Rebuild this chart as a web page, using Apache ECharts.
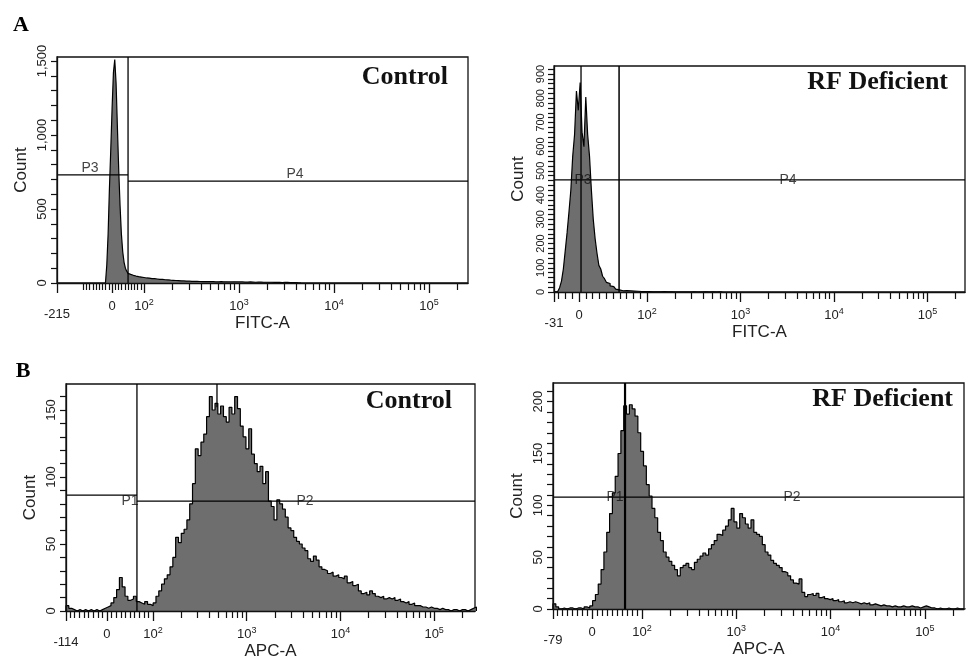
<!DOCTYPE html>
<html><head><meta charset="utf-8">
<script src="https://cdn.jsdelivr.net/npm/echarts@6/dist/echarts.min.js"></script>
<style>html,body{margin:0;padding:0;background:#fff}#c{width:968px;height:663px}</style>
</head><body><div id="c"></div>
<script>
// ================= DATA =================
// x values are in display units of the biexponential axis (10^2 -> 2, 10^3 -> 3, ...)
// --- A: FITC, Control ---
const fitcCtrlStart = 1.594, fitcCtrlBin = 0.014;
const fitcCtrlCounts = [
 0,120,330,640,900,1180,1420,1510,1350,1050,
 760,520,330,210,140,100,80,65,58,54,
 52,49,47,45,43,42,40,39,37,36,
 34,33,33,32,30,31,29,28,27,26,
 25,25,24,23,22,21,21,20,19,19,
 18,18,17,16,16,15,15,14,14,13,
 13,12,12,12,11,11,11,10,11,10,
 10,10,9,10,9,9,10,9,9,8,
 9,9,8,9,8,8,9,8,8,7,
 8,8,7,8,7,7,8,7,7,7,
 7,6,7,7,6,7,6,6,7,6,
 6,6,5,6,6,5,6,5,5,6,
 5,5,5,4,5,5,4,5,4,4,
 4,4,3,4,4,3,4,3,3,3,
 3,2,3,2,1,2,0];
const fitcCtrlTicks = ['-215','0','10^2','10^3','10^4','10^5'];
const fitcCtrlTickPos = [1.084, 1.663, 2, 3, 4, 5];
const fitcCtrlGates = [[[1.832,0],[1.832,1527]], [[1.084,730],[1.832,730]], [[1.832,689],[5.411,689]]];
const fitcCtrlGateLabels = [['P3',1.432,730],['P4',3.589,689]];

// --- A: FITC, RF Deficient ---
const fitcRfStart = 1.005, fitcRfBin = 0.02;
const fitcRfCounts = [
 0,2,5,18,45,95,170,245,330,420,
 560,650,830,750,865,660,600,805,650,560,
 420,300,220,160,110,95,65,55,40,35,
 25,22,18,12,9,7,5,4,6,3,
 5,3,4,2,3,4,2,3,2,3,
 2,2,1,2,1,2,1,1,2,1,
 1,0,1,1,0,1,0,1,0,1,
 0,1,0,0,1,0,0,1,0,0,
 1,0,0,0,1,0,0,0,1,0];
const fitcRfTicks = ['-31','0','10^2','10^3','10^4','10^5'];
const fitcRfTickPos = [1.005, 1.273, 2, 3, 4, 5];
const fitcRfGates = [[[1.294,0],[1.294,933]], [[1.701,0],[1.701,933]], [[1.005,463],[5.401,463]]];
const fitcRfGateLabels = [['P3',1.316,463],['P4',3.508,463]];

// --- B: APC, Control ---
const apcCtrlStart = 1.072, apcCtrlBin = 0.03;
const apcCtrlCounts = [
 4,2,1,0,1,0,1,0,1,0,
 1,0,1,2,3,4,6,10,16,25,
 18,11,8,9,11,7,6,5,7,5,
 4,6,11,15,20,24,27,33,40,55,
 51,58,61,68,80,95,121,116,126,132,
 145,160,150,155,147,153,145,141,152,147,
 160,151,138,130,121,136,117,110,104,108,
 95,104,82,78,68,83,80,76,70,62,
 60,55,52,50,47,45,39,37,41,38,
 33,31,30,28,29,26,27,25,24,26,
 21,22,19,20,15,13,14,12,15,13,
 11,10,11,9,10,9,10,8,9,7,
 6,7,5,6,4,4,3,3,2,3,
 2,2,1,2,1,1,0,1,1,0,
 1,1,0,1,2,3];
const apcCtrlTicks = ['-114','0','10^2','10^3','10^4','10^5'];
const apcCtrlTickPos = [1.072, 1.509, 2, 3, 4, 5];
const apcCtrlGates = [[[1.829,0],[1.829,169.4]], [[2.683,152],[2.683,169.4]], [[1.072,86.5],[1.829,86.5]], [[1.829,82],[5.436,82]]];
const apcCtrlGateLabels = [['P1',1.755,82],['P2',3.622,82]];

// --- B: APC, RF Deficient ---
const apcRfStart = 1.056, apcRfBin = 0.03;
const apcRfCounts = [
 5,2,0,1,0,1,1,0,1,1,
 0,2,1,3,8,14,24,38,55,74,
 92,112,128,150,172,196,188,197,193,186,
 170,152,138,120,109,97,88,74,66,55,
 50,46,42,38,32,40,42,44,40,38,
 45,48,51,54,52,58,62,66,72,71,
 76,80,86,97,84,78,92,88,82,78,
 86,74,72,70,62,55,52,47,44,42,
 40,36,35,32,28,25,24,29,16,12,
 14,15,13,15,11,12,10,9,10,8,
 9,7,8,6,7,6,7,6,5,6,
 5,6,4,5,4,3,4,3,3,2,
 3,2,2,3,2,2,3,2,2,1,
 2,3,2,1,1,0,1,0,0,1,
 0,0,1,0,0,0];
const apcRfTicks = ['-79','0','10^2','10^3','10^4','10^5'];
const apcRfTickPos = [1.056, 1.470, 2, 3, 4, 5];
const apcRfGates = [[[1.820,0],[1.820,218]], [[1.056,108],[5.415,108]]];
const apcRfGateLabels = [['P1',1.714,108],['P2',3.591,108]];

// ================= LAYOUT =================
const panels = [
 {box:[57,57,411,226], xMin:1.084, xZero:1.663, xMax:5.411, yMax:1527, yStep:500, yMinor:100, yFont:13,
  xName:'FITC-A', start:fitcCtrlStart, bin:fitcCtrlBin, counts:fitcCtrlCounts, ticks:fitcCtrlTicks, tickPos:fitcCtrlTickPos,
  gates:fitcCtrlGates, gateW:[1.3,1.3,1.3], labels:fitcCtrlGateLabels, labelPos:'top', title:'Control', titleXY:[448,77]},
 {box:[554,66,411,226], xMin:1.005, xZero:1.273, xMax:5.401, yMax:933, yStep:100, yMinor:20, yFont:11,
  xName:'FITC-A', start:fitcRfStart, bin:fitcRfBin, counts:fitcRfCounts, ticks:fitcRfTicks, tickPos:fitcRfTickPos,
  gates:fitcRfGates, gateW:[1.3,1.5,1.3], labels:fitcRfGateLabels, labelPos:'inside', title:'RF Deficient', titleXY:[948,82]},
 {box:[66,384,409,227], xMin:1.072, xZero:1.509, xMax:5.436, yMax:169.4, yStep:50, yMinor:10, yFont:13,
  xName:'APC-A', start:apcCtrlStart, bin:apcCtrlBin, counts:apcCtrlCounts, ticks:apcCtrlTicks, tickPos:apcCtrlTickPos,
  gates:apcCtrlGates, gateW:[1.3,1.3,1.3,1.3], labels:apcCtrlGateLabels, labelPos:'inside', title:'Control', titleXY:[452,401]},
 {box:[553,383,411,226], xMin:1.056, xZero:1.470, xMax:5.415, yMax:218, yStep:50, yMinor:10, yFont:13,
  xName:'APC-A', start:apcRfStart, bin:apcRfBin, counts:apcRfCounts, ticks:apcRfTicks, tickPos:apcRfTickPos,
  gates:apcRfGates, gateW:[2.2,1.3], labels:apcRfGateLabels, labelPos:'inside', title:'RF Deficient', titleXY:[953,399]}
];

const SANS = 'Liberation Sans, Arial, sans-serif';
const SERIF = 'Liberation Serif, Times New Roman, serif';

function minorTicks(p){
  const out = [];
  const step = (2 - p.xZero) / 10;
  for (let k = 1; k <= 9; k++) {
    out.push(p.xZero + k * step);
    const n = p.xZero - k * step;
    if (n > p.xMin + 1e-6) out.push(n);
  }
  for (let e = 2; e <= 5; e++) for (let k = 2; k <= 9; k++) {
    const v = e + Math.log10(k);
    if (v < p.xMax) out.push(v);
  }
  return out;
}
function histData(start, bin, counts){
  const d = [[start, 0]];
  counts.forEach((c, i) => d.push([start + i * bin, c]));
  d.push([start + counts.length * bin, 0]);
  return d;
}
function richTick(t, isMin){
  if (isMin) return '{low|' + t + '}';
  return t.replace(/\^(\d)/, '{s|$1}');
}

const option = {animation:false, backgroundColor:'#fff', grid:[], xAxis:[], yAxis:[], series:[], graphic:[]};

panels.forEach((p, g) => {
  option.grid.push({left:p.box[0], top:p.box[1], width:p.box[2], height:p.box[3], show:true,
    outerBoundsMode:'none', containLabel:false,
    borderColor:'#111', borderWidth:1.3, backgroundColor:'transparent'});
  option.xAxis.push({type:'value', gridIndex:g, position:'bottom', min:p.xMin, max:p.xMax, z:10,
    name:p.xName, nameLocation:'middle', nameGap:32, nameMoveOverlap:false,
    nameTextStyle:{fontSize:17, fontFamily:SANS, color:'#222'},
    axisLine:{show:true, lineStyle:{color:'#111', width:1.3}},
    axisTick:{show:true, customValues:p.tickPos, length:10, lineStyle:{color:'#111', width:1.3}},
    axisLabel:{show:true, customValues:p.tickPos, margin:15, fontSize:13, fontFamily:SANS, color:'#222', lineHeight:16,
      formatter:(v) => { let j = 0, best = 1e9; p.tickPos.forEach((q, k) => { if (Math.abs(q - v) < best) { best = Math.abs(q - v); j = k; } }); return richTick(p.ticks[j], j === 0); },
      rich:{s:{fontSize:9, lineHeight:9, verticalAlign:'top', fontFamily:SANS, color:'#222'},
            low:{padding:[16,0,0,0], fontSize:13, fontFamily:SANS, color:'#222'}}},
    splitLine:{show:false}});
  option.xAxis.push({type:'value', gridIndex:g, position:'bottom', min:p.xMin, max:p.xMax, z:10,
    axisLine:{show:false}, axisLabel:{show:false}, splitLine:{show:false},
    axisTick:{show:true, customValues:minorTicks(p), length:7, lineStyle:{color:'#111', width:1.2}}});
  const yTicks = [], yLabs = [];
  for (let v = 0; v <= p.yMax + 1e-6; v += p.yMinor) yTicks.push(v);
  for (let v = 0; v <= p.yMax + 1e-6; v += p.yStep) yLabs.push(v);
  option.yAxis.push({type:'value', gridIndex:g, min:0, max:p.yMax, z:10,
    name:'Count', nameLocation:'middle', nameGap:27,
    nameTextStyle:{fontSize:17, fontFamily:SANS, color:'#222'},
    axisLine:{show:true, lineStyle:{color:'#111', width:1.3}},
    axisTick:{show:true, customValues:yTicks, length:6, lineStyle:{color:'#111', width:1.2}},
    axisLabel:{show:true, customValues:yLabs, rotate:90, margin:8, fontSize:p.yFont, fontFamily:SANS, color:'#222',
      formatter:(v) => Math.round(v).toLocaleString('en-US')},
    splitLine:{show:false}});
  option.series.push({type:'line', xAxisIndex:2*g, yAxisIndex:g, data:histData(p.start, p.bin, p.counts),
    step:'end', symbol:'none', silent:true, z:2,
    lineStyle:{color:'#000', width:1.2}, areaStyle:{color:'#6e6e6e', opacity:1}});
  p.gates.forEach((seg, k) => option.series.push({type:'line', xAxisIndex:2*g, yAxisIndex:g, data:seg,
    symbol:'none', silent:true, z:4, lineStyle:{color:'#000', width:p.gateW[k]}}));
  option.series.push({type:'scatter', xAxisIndex:2*g, yAxisIndex:g, symbolSize:0, silent:true, z:5,
    data:p.labels.map(l => ({value:[l[1], l[2]], name:l[0]})),
    label:{show:true, formatter:'{b}', position:p.labelPos, distance:0, fontSize:14, fontFamily:SANS, color:'#111'}});
  option.graphic.push({type:'text', x:p.titleXY[0], y:p.titleXY[1], z:20,
    style:{text:p.title, font:'bold 26px ' + SERIF, fill:'#111', textAlign:'right', textVerticalAlign:'middle', align:'right', verticalAlign:'middle'}});
});
option.graphic.push({type:'text', x:21, y:25, z:20, style:{text:'A', font:'bold 22px ' + SERIF, fill:'#000', textAlign:'center', textVerticalAlign:'middle', align:'center', verticalAlign:'middle'}});
option.graphic.push({type:'text', x:23, y:371, z:20, style:{text:'B', font:'bold 22px ' + SERIF, fill:'#000', textAlign:'center', textVerticalAlign:'middle', align:'center', verticalAlign:'middle'}});

const chart = echarts.init(document.getElementById('c'), null, {renderer:'canvas'});
chart.setOption(option);
</script></body></html>
